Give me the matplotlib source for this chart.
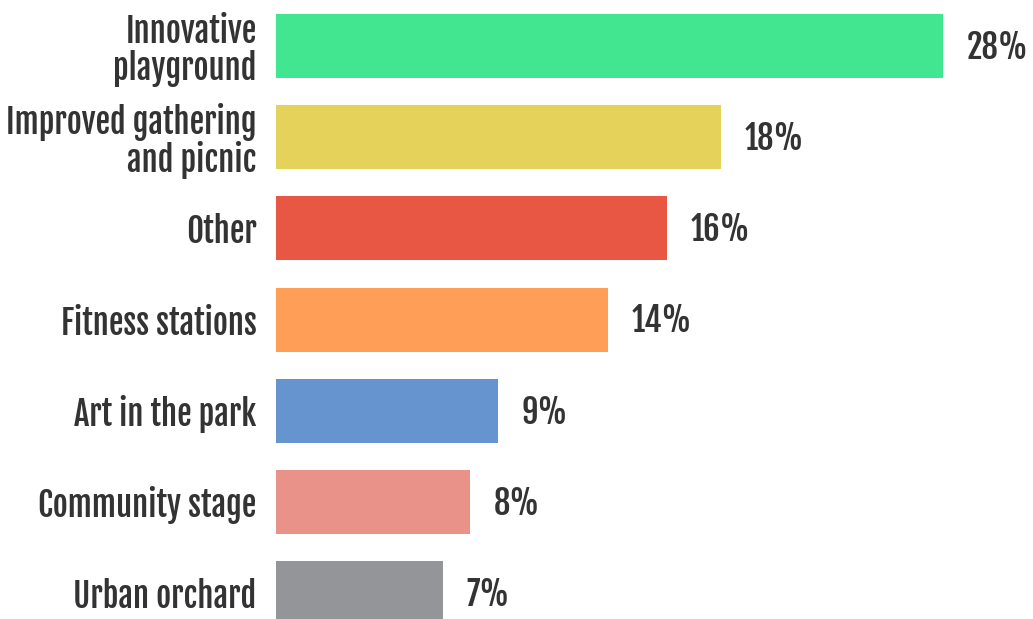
import matplotlib.pyplot as plt
from matplotlib import font_manager

# survey results: preferred park improvements
categories = ["Innovative\nplayground", "Improved gathering\nand picnic", "Other",
              "Fitness stations", "Art in the park", "Community stage", "Urban orchard"]
values = [28.0, 18.7, 16.4, 13.95, 9.3, 8.15, 7.0]
value_labels = ["28%", "18%", "16%", "14%", "9%", "8%", "7%"]
colors = ["#43e690", "#e5d25a", "#e85744", "#ff9f57", "#6694cf", "#e9928a", "#939598"]

names = {f.name for f in font_manager.fontManager.ttflist}
fam = [n for n in ["Fjalla One", "Oswald"] if n in names][:1]
plt.rcParams['font.family'] = fam + ["DejaVu Sans"]

text_color = "#333333"
fsize = 23.5

fig = plt.figure(figsize=(10.33, 6.19), dpi=100)
ax = fig.add_axes([276 / 1033, 0, 1 - 276 / 1033, 1])

y = list(range(len(categories)))
ax.barh(y, values, height=0.702, color=colors)

for yi, v, lab in zip(y, values, value_labels):
    ax.annotate(lab, (v, yi), xytext=(17, -1), textcoords="offset points",
                va="center", ha="left", fontsize=fsize, color=text_color)

ax.set_yticks(y)
ax.set_yticklabels(categories, fontsize=fsize, color=text_color, linespacing=1.0)
ax.tick_params(axis="y", length=0, pad=14)
ax.set_xticks([])
ax.set_xlim(0, 31.78)
ax.set_ylim(6.285, -0.5046)
for s in ax.spines.values():
    s.set_visible(False)

fig.savefig("out.png", dpi=100)
